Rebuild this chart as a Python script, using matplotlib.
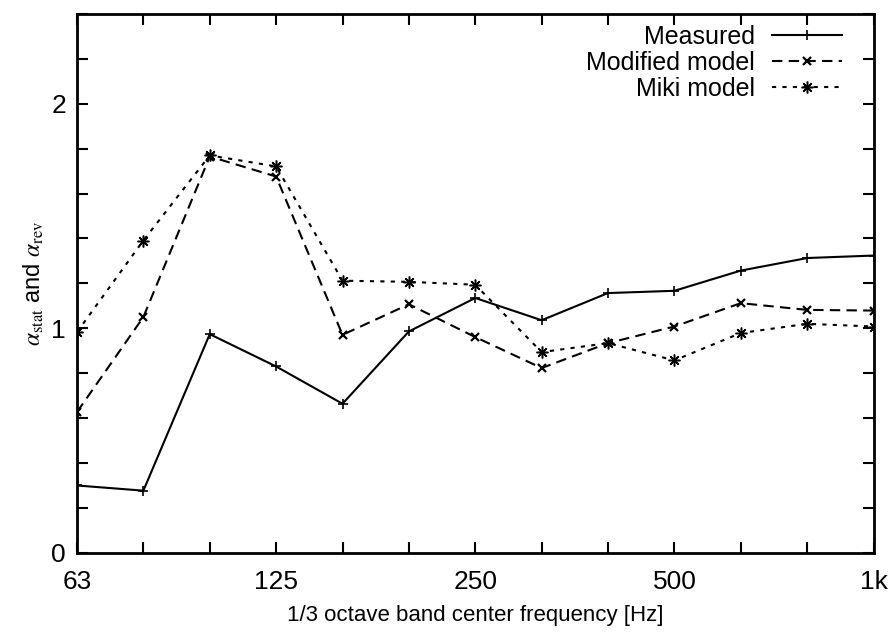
import numpy as np
import matplotlib
matplotlib.use('Agg')
import matplotlib.pyplot as plt
from matplotlib.ticker import MultipleLocator

# %% Data
bands = ['63', '80', '100', '125', '160', '200', '250', '315', '400', '500', '630', '800', '1k']
tick_labels = ['63', '125', '250', '500', '1k']
measured = [0.30, 0.277, 0.974, 0.83, 0.664, 0.986, 1.135, 1.036, 1.157, 1.167, 1.257, 1.313, 1.324]
modified = [0.627, 1.05, 1.765, 1.676, 0.971, 1.107, 0.961, 0.823, 0.934, 1.008, 1.112, 1.082, 1.079]
miki = [0.983, 1.391, 1.770, 1.721, 1.212, 1.207, 1.194, 0.894, 0.934, 0.857, 0.979, 1.020, 1.008]

plt.rcParams['font.family'] = ['Liberation Sans', 'DejaVu Sans']
plt.rcParams['mathtext.fontset'] = 'stix'

x = np.arange(len(bands))

fig = plt.figure(figsize=(8.89, 6.34), dpi=100)
ax = fig.add_axes([0.0866, 0.128, 0.896, 0.850])

ax.plot(x, measured, color='black', lw=1.5, ls='-', marker='+', ms=7, mew=1.2,
        label='Measured')
ax.plot(x, modified, color='black', lw=1.5, ls=(0, (5, 3)), marker='x', ms=6, mew=1.6,
        label='Modified model')
ax.plot(x, miki, color='black', lw=1.5, ls=(0, (2, 3)), marker=(8, 2, 0), ms=8.5, mew=1.1,
        label='Miki model')

ax.set_xlim(0, len(bands) - 1)
ax.set_ylim(0, 2.4)
ax.set_xticks(x, minor=False)
ax.set_xticklabels([b if b in tick_labels else '' for b in bands])
ax.set_yticks([0, 1, 2])
ax.yaxis.set_minor_locator(MultipleLocator(0.2))
ax.tick_params(axis='both', which='both', direction='in', top=True, right=True,
               width=1.5, labelsize=19, pad=12)
ax.tick_params(axis='y', which='major', pad=8)
ax.tick_params(axis='both', which='major', length=8)
ax.tick_params(axis='y', which='minor', length=8)
for s in ax.spines.values():
    s.set_linewidth(2)

ax.set_xlabel('1/3 octave band center frequency [Hz]', fontsize=16, labelpad=8)
ax.set_ylabel(r'$\alpha_{\rm stat}$ and $\alpha_{\rm rev}$', fontsize=17, labelpad=4)

leg = ax.legend(loc='upper right', bbox_to_anchor=(0.961, 0.980), frameon=False,
                markerfirst=False, fontsize=18, handlelength=2.8, labelspacing=0.08,
                borderaxespad=0, borderpad=0, handletextpad=0.7)
for t in leg.get_texts():
    t.set_ha('right')
leg._legend_box.align = 'right'

fig.savefig('out.png', dpi=100)
